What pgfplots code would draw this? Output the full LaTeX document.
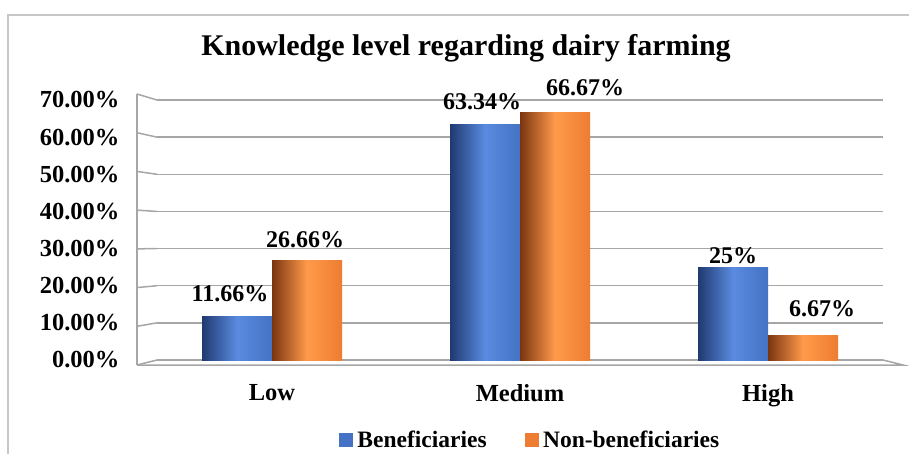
\documentclass[border=0pt]{standalone}
\usepackage{pgfplots}
\pgfplotsset{compat=1.18}
\usepackage{fontspec}
\setmainfont{Liberation Serif}
\definecolor{bdark}{HTML}{1F3A70}
\definecolor{blight}{HTML}{5A8BE0}
\definecolor{bright}{HTML}{4472C4}
\definecolor{odark}{HTML}{7A3510}
\definecolor{olight}{HTML}{FF9A4A}
\definecolor{oright}{HTML}{ED7D31}
\definecolor{gridc}{HTML}{A6A6A6}
\newcommand{\fs}[1]{\fontsize{#1}{#1}\selectfont\bfseries}
\begin{document}
\begin{tikzpicture}
\path[use as bounding box] (0,0) rectangle (909pt,-454pt);
\draw[line width=1.5pt, color=black!22] (8pt,-454pt) -- (8pt,-15pt) -- (909pt,-15pt);
\node[font=\fs{30}] at (466pt,-48pt) {Knowledge level regarding dairy farming};
\begin{axis}[
 at={(157pt,-360pt)}, anchor=south west, scale only axis, width=726pt, height=260pt,
 xmin=-0.4637, xmax=2.4637, ymin=0, ymax=70,
 ytick={0,10,...,70},
 xtick={0,1,2}, xticklabels={Low,Medium,High},
 axis line style={draw=none}, tick style={draw=none},
 ymajorgrids, grid style={gridc, line width=1.5pt},
 /pgf/number format/assume math mode=true,
 yticklabel={\pgfmathprintnumber[fixed,fixed zerofill,precision=2]{\tick}\%},
 ticklabel style={font=\fs{24.5}, text=black},
 yticklabel style={xshift=-34pt},
 xticklabel style={yshift=-17pt},
 ybar=0pt, bar width=70pt,
 nodes near coords, point meta=explicit symbolic,
 nodes near coords style={font=\fs{24}, text=black},
 legend style={at={(0.514,-0.308)}, anchor=center, legend columns=2, draw=none, font=\fs{23.5}, /tikz/every even column/.append style={column sep=36pt}},
 clip=false,
]
\addlegendimage{legend image code/.code={\fill[bright] (0pt,-6.5pt) rectangle (13pt,6.5pt);}}
\addlegendentry{\hspace{3pt}Beneficiaries}
\addlegendimage{legend image code/.code={\fill[oright] (0pt,-6.5pt) rectangle (13pt,6.5pt);}}
\addlegendentry{\hspace{3pt}Non-beneficiaries}
\pgfplotsinvokeforeach{0,10,20,30,40,50,60,70}{
  \draw[gridc, line width=1.5pt] (axis cs:-0.4637,#1) -- ++(-20pt,{(-5+11*#1/70)*1pt});
}
\draw[gridc, line width=1.5pt] (axis cs:-0.4637,0) ++(-20pt,-5pt) -- ++(0pt,271pt);
\draw[gridc, line width=1.5pt] (axis cs:-0.4637,0) ++(-20pt,-5pt) -- ++(766pt,0pt) -- (axis cs:2.4637,0);
% Beneficiaries
\addplot[forget plot, bar shift=-35pt, draw=none, left color=bdark, right color=bright, middle color=blight,
 nodes near coords style={xshift=-7pt, yshift=11pt}]
 coordinates {(0,11.66)[11.66\%]};
\addplot[forget plot, bar shift=-35pt, draw=none, left color=bdark, right color=bright, middle color=blight,
 nodes near coords style={xshift=-3pt, yshift=11pt}]
 coordinates {(1,63.34)[63.34\%]};
\addplot[forget plot, bar shift=-35pt, draw=none, left color=bdark, right color=bright, middle color=blight]
 coordinates {(2,25)[25\%]};
% Non-beneficiaries
\addplot[forget plot, bar shift=35pt, draw=none, left color=odark, right color=oright, middle color=olight,
 nodes near coords style={xshift=-2pt, yshift=10pt}]
 coordinates {(0,26.66)[26.66\%]};
\addplot[forget plot, bar shift=35pt, draw=none, left color=odark, right color=oright, middle color=olight,
 nodes near coords style={xshift=30pt, yshift=13pt}]
 coordinates {(1,66.67)[66.67\%]};
\addplot[forget plot, bar shift=35pt, draw=none, left color=odark, right color=oright, middle color=olight,
 nodes near coords style={xshift=19pt, yshift=15pt}]
 coordinates {(2,6.67)[6.67\%]};
\end{axis}
\end{tikzpicture}
\end{document}
